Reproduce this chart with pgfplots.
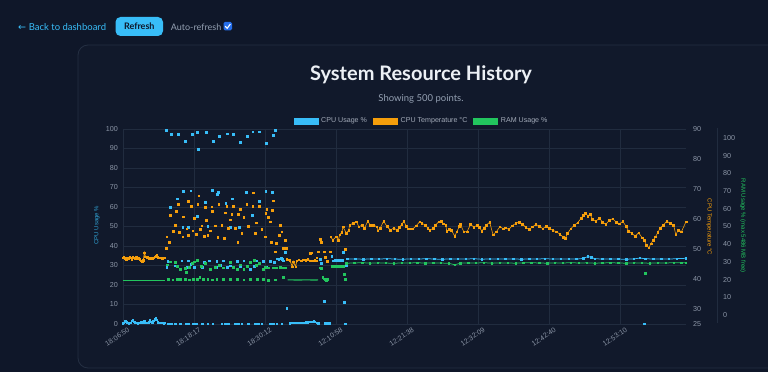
\documentclass[border=0pt]{standalone}
\usepackage{fontspec}
\setmainfont{Liberation Sans}
\newfontfamily\lato{Lato}
\newfontfamily\dejavu{DejaVu Sans}
\usepackage{pgfplots}
\pgfplotsset{compat=1.18}
\definecolor{bgc}{RGB}{15,23,41}
\definecolor{cardc}{RGB}{17,25,43}
\definecolor{cardb}{RGB}{36,47,66}
\definecolor{gridc}{RGB}{33,44,63}
\definecolor{tickc}{RGB}{139,149,166}
\definecolor{cpuc}{RGB}{56,189,248}
\definecolor{tempc}{RGB}{245,158,11}
\definecolor{ramc}{RGB}{34,197,94}
\definecolor{titlec}{RGB}{236,240,245}
\definecolor{subc}{RGB}{148,160,178}
\definecolor{chkc}{RGB}{37,110,235}
\newcommand{\fs}[1]{\fontsize{#1}{#1}\selectfont}
\pgfplotsset{
 base/.style={scale only axis, width=563pt, height=195pt, at={(123pt,48pt)}, anchor=south west,
   xmin=0, xmax=499, axis line style={draw=none}, major tick length=0pt, tick style={draw=none},
   /pgf/number format/assume math mode=true},
 mk/.style={only marks, mark=square*, mark size=0.9pt, mark options={draw=none}},
 ln/.style={line width=0.75pt, mark=square*, mark size=0.7pt, mark options={draw=none}},
}
\begin{document}
\begin{tikzpicture}
\begin{scope}[x=1pt,y=1pt]
\fill[bgc] (0,0) rectangle (768,372);
\filldraw[fill=cardc, draw=cardb, line width=0.8pt, rounded corners=10pt] (78,4) rectangle (790,327);
% header
\node[anchor=base west, inner sep=0pt, text=cpuc, font=\fs{9.5}] at (18,341) {{\dejavu ←} {\lato Back to dashboard}};
\fill[cpuc, rounded corners=5pt] (115.5,336) rectangle (163,355);
\node[text=bgc, font=\lato\bfseries\fs{9}] at (139.3,345.5) {Refresh};
\node[anchor=base west, inner sep=0pt, text=subc, font=\lato\fs{9}] at (170.7,341) {Auto-refresh};
\fill[chkc, rounded corners=1.5pt] (223.5,341.5) rectangle (232,350);
\draw[white, line width=1.1pt] (225.2,345.8) -- (227.2,343.7) -- (230.4,348);
% title
\node[anchor=base, text=titlec, font=\lato\bfseries\fs{20}] at (421,291) {System Resource History};
\node[anchor=base, text=subc, font=\lato\fs{9.5}] at (421,270) {Showing 500 points.};
% legend
\filldraw[fill=cpuc, draw=cpuc] (294,248) rectangle (318,253.5);
\node[anchor=west, inner sep=0pt, text=tickc!80!white, font=\fs{7.1}] at (321,250.8) {CPU Usage \%};
\filldraw[fill=tempc, draw=tempc] (373,248) rectangle (397,253.5);
\node[anchor=west, inner sep=0pt, text=tickc!80!white, font=\fs{7.1}] at (400.5,250.8) {CPU Temperature °C};
\filldraw[fill=ramc, draw=ramc] (473.5,248) rectangle (497.5,253.5);
\node[anchor=west, inner sep=0pt, text=tickc!80!white, font=\fs{7.1}] at (500.7,250.8) {RAM Usage \%};
% axis titles
\node[rotate=90, text=cpuc!85!black, font=\fs{6}] at (97,147) {CPU Usage \%};
\node[rotate=-90, text=tempc, font=\fs{6}] at (709,145) {CPU Temperature °C};
\node[rotate=-90, text=ramc, font=\fs{6}] at (743,146) {RAM Usage \% (max 5486 MB free)};
\draw[gridc, line width=0.6pt] (717,49) -- (717,244);
\end{scope}

% ---------- CPU usage axis ----------
\begin{axis}[base, ymin=0, ymax=100, ytick={0,10,...,100},
  xtick={0,63,126,189,252,315,378,441},
  xticklabels={18:06:50,18:18:17,18:30:12,12:10:58,12:21:38,12:32:09,12:42:40,12:53:10},
  ymajorgrids, xmajorgrids, grid style={gridc, line width=0.6pt},
  yticklabel style={font=\fs{7.2}, text=tickc, anchor=east, inner sep=0pt, xshift=-5pt},
  xticklabel style={font=\fs{7}, text=tickc, rotate=33, anchor=north east, inner sep=0pt, yshift=-5pt, xshift=2pt}]
% region A
\addplot[cpuc, ln] coordinates {(0,0.4)(1,0.6)(2,1.4)(3,1.0)(4,0.5)(5,0.4)(6,0.6)(7,0.5)(8,1.6)(9,2.2)(10,1.0)(11,0.6)(12,0.5)(13,0.4)(14,0.5)(15,0.6)(16,0.8)(17,1.1)(18,0.9)(19,1.3)(20,0.7)(21,0.6)(22,0.5)(23,0.8)(24,1.8)(25,1.0)(26,0.6)(27,1.5)(28,2.4)(29,3.2)(30,2.1)(31,0.9)(32,0.6)(33,0.5)(34,0.5)(35,0.6)(36,0.4)(37,0.5)};
% region B scattered
\addplot[cpuc, mk] coordinates {
(38,99.5)(43,97.4)(49,97.4)(55,93.8)(61,97.4)(66,98.5)(67,89.7)(74,98.5)(80,93.8)(85,96.5)(92,97.6)(98,97.4)(104,93.3)(110,96.5)(115,98.6)(121,98.6)(127,92.8)(133,96.9)(135,99.5)
(42,59.8)(48,64.3)(53.5,68)(60,68.4)(66,55.2)(72.7,62.5)(79,68.7)(84.5,67.7)(83.6,66.6)(91,62)(97,64.3)(109,67.7)(114.7,55.7)(120.6,63)(126.5,67.9)(132.4,67.4)
(53,49.6)(75,50.2)(95,49.6)(58,49.5)(103,49.5)
(39.6,32.1)(38.7,29)(46,29.9)(52,32.5)(58,32.5)(57,29)(63,29)(70.3,29)(76.5,32.5)(83,32)(83,29)(89,32.5)(95,29.9)(101,32.2)(107,32.5)(112.6,28.2)(118.5,32.5)(124.4,32.2)(130.3,32.2)(104,29.5)(92,29.2)(60,30.5)(72,31.8)(86,30.2)(116,29.6)(127,29.4)(134,31.5)
(40,0.2)(43,0.2)(46,0.2)(50.5,0.2)(55.6,0.2)(58,0.2)(62,0.2)(65,0.2)(70,0.2)(75,0.2)(79.5,0.2)(87.5,0.2)(90.4,0.2)(93.4,0.2)(99.3,0.2)(102.3,0.2)(105.2,0.2)(111.1,0.2)(117,0.2)(120,0.2)(123,0.2)(130.3,0.2)(133.2,0.2)(136.2,0.2)(140.7,0.2)
(137,33.5)(138,33.3)(139,33.5)(140,33.7)(141,33.4)(142,32.5)(144,37)(145,8.1)
(175,33.3)(176,31.3)(178,11.5)(179,0.4)(180,0.5)(181,0.4)(183,0.6)(185,34.7)(186,32.5)(188,32.8)(189,32.8)(190,32.9)(191,32.8)(192,32.8)(193,32.9)(194,32.8)(195,36.8)(196,11.3)(197,0.2)(198,30.3)
(462,0.2)};
% region C line
\addplot[cpuc, ln] coordinates {(148,0.4)(150,0.5)(152,0.5)(154,0.6)(156,0.5)(158,0.7)(160,0.6)(162,0.8)(164,0.9)(166,1.2)(168,1.0)(169,1.7)(170,1.1)(172,0.6)(173,0.4)};
% region E line
\addplot[cpuc, ln] coordinates {(199,33.3)(206,33.4)(213,33.2)(220,33.4)(227,33.3)(234,33.5)(241,33.3)(248,33.2)(255,33.4)(262,33.3)(269,33.5)(276,33.3)(283,33.2)(290,33.4)(297,33.3)(304,33.3)(311,33.5)(318,33.2)(325,33.4)(332,33.3)(339,33.3)(346,33.4)(353,33.2)(360,33.4)(367,33.3)(374,33.5)(381,33.3)(388,33.3)(395,33.4)(402,33.3)(408,33.6)(412,34.6)(415,34.2)(418,33.5)(425,33.3)(432,33.4)(439,33.3)(446,33.2)(453,33.4)(458,33.8)(463,33.5)(470,33.3)(477,33.4)(484,33.3)(491,33.5)(499,33.7)};
\end{axis}

% ---------- CPU temperature axis ----------
\begin{axis}[base, ymin=25, ymax=90, ytick={25,30,40,50,60,70,80,90}, xtick=\empty,
  yticklabel pos=right,
  yticklabel style={font=\fs{7.2}, text=tickc, anchor=west, inner sep=0pt, xshift=7pt}]
\addplot[tempc, ln] coordinates {(0,47.0)(1,47.3)(2,46.9)(3,46.3)(4,47.0)(5,46.8)(6,47.3)(7,47.0)(8,46.6)(9,47.2)(10,47.1)(11,46.9)(12,47.3)(13,46.8)(14,47.0)(15,46.5)(16,46.1)(17,45.9)(18,46.2)(19,48.8)(20,47.4)(21,47.0)(22,47.2)(23,46.9)(24,46.8)(25,47.0)(26,46.7)(27,47.1)(28,47.3)(29,47.6)(30,48.0)(31,47.2)(32,47.0)(33,47.1)(34,47.0)(35,46.9)(36,47.1)(37,47.0)};
\addplot[tempc, mk] coordinates {
(41.7,61.3)(46,58)(49,65)(53.5,60.8)(60.3,64.4)(66.2,64.9)(67.1,67.8)(72.7,63.9)(78.9,62.7)(78.6,64.1)(84.8,65)
(38.7,54.1)(41,52.4)(44.6,56)(49.9,55.7)(52.9,54.1)(56.5,56.8)(57.9,54.6)(61.8,56.1)(64.7,55)(68.3,56.7)(69.8,57.8)(71.8,54.4)(75.1,54.6)(77.1,56.1)(81.6,57.8)(84,54)(38.1,50.2)
(91.9,64.4)(97.8,64.4)(103.7,63.2)(109.7,65)(115,64.4)(120.8,64.4)(126.5,62)(127.4,63.3)(132.4,62.9)(133.2,66.1)(115.5,68.8)(90.4,62.1)(96.4,61.6)(102.2,61.6)
(87.5,58)(93.4,56.9)(99.3,56.9)(105.2,55.4)(111.1,57.7)(117,55.4)(123,56.6)(130.3,59.1)(139.2,58)(140.7,55.8)(143.6,53)(89.8,53.6)(101.7,52.4)(125.9,54.1)(131.2,52.4)(135.6,51.9)(138.3,54.7)(144.5,50.2)(141.8,50.2)(134.8,49.1)
(47,62.5)(58,66.0)(63,60.2)(74,59.5)(95,59.8)(107,60.5)(118,58.8)(129,60.7)
(166,48.6)(167,48.8)(171.7,47.1)(173,49.1)(174.6,53.2)(176,52.4)(178,49.1)(179,47.4)(181,46)(183.5,49.1)(196.8,50)};
\addplot[tempc, ln] coordinates {(145,46.5)(146,46.3)(148,46.2)(150,44.1)(151,45.8)(153,44.1)(154,46.0)(156,46.3)(158,46.1)(160,46.4)(162,46.2)(164,46.5)(166,46.1)(168,46.0)(170,46.2)(172,46.0)};
\addplot[tempc, line width=0.6pt, mark=square*, mark size=0.8pt, mark options={draw=none}] coordinates {(184,54.1)(186,53.0)(189,54.1)(191,53.0)(192,54.7)(194,55.6)(195,57.4)(198,55.2)(200,56.3)(201,58.0)(204,58.6)(207,59.1)(209,57.4)(212,58.0)(214,56.9)(217,59.3)(219,58.0)(222,58.0)(225,57.4)(226,56.1)(228,57.0)(231,59.3)(234,57.5)(237,56.3)(240,57.0)(243,56.3)(245,57.2)(247,58.2)(249,59.3)(251,57.5)(253,56.7)(255,56.8)(257,56.7)(260,57.8)(263,59.1)(265,58.5)(268,58.0)(270,57.0)(272,56.3)(275,56.9)(277,58.0)(280,59.1)(282,59.3)(284,58.4)(286,58.0)(287,56.0)(289,56.5)(291,56.3)(294,54.3)(296,55.8)(298,57.5)(299,58.2)(302,55.8)(305,55.8)(308,58.2)(311,57.3)(314,58.0)(316,57.2)(318,56.0)(320,57.0)(322,58.0)(325,58.9)(328,54.7)(331,55.8)(334,57.4)(337,56.8)(339,57.1)(342,56.5)(345,57.8)(348,58.5)(351,59.0)(354,58.3)(357,57.2)(360,56.5)(363,57.4)(366,58.2)(369,57.6)(372,56.8)(375,57.5)(378,56.9)(381,56.2)(384,55.8)(387,55.0)(390,54.0)(392,53.6)(394,55.2)(397,56.8)(400,57.9)(403,58.8)(406,60.2)(408,61.3)(410,62.0)(412,61.0)(414,61.6)(416,60.0)(419,59.2)(422,60.3)(425,59.0)(428,58.2)(431,59.6)(434,60.1)(437,59.0)(440,58.4)(443,59.2)(446,57.5)(448,56.0)(451,55.2)(454,54.3)(457,55.4)(460,53.8)(462,53.0)(464,51.2)(466,50.4)(468,51.8)(470,53.0)(472,54.1)(474,55.5)(476,56.9)(479,58.0)(482,59.3)(485,58.5)(488,58.0)(490,54.7)(492,56.3)(495,55.8)(499,59.1)};
\end{axis}

% ---------- RAM axis ----------
\begin{axis}[base, ymin=-5, ymax=105, ytick={0,10,...,100}, xtick=\empty,
  yticklabel pos=right,
  yticklabel style={font=\fs{7.2}, text=tickc, anchor=west, inner sep=0pt, xshift=37pt}]
\addplot[ramc, line width=1.3pt] coordinates {(0,19.6)(10,19.6)(20,19.6)(30,19.6)(37,19.6)};
\addplot[ramc, mk] coordinates {
(40,20.2)(44,20.0)(48,20.3)(51,20.1)(55,20.2)(59,20.0)(62,20.3)(66,20.2)(68,21.2)(71,20.1)(75,20.2)(79,20.0)(83,20.2)(89,20.3)(95,20.1)(101,20.2)(107,20.0)(113,20.2)(119,20.3)(124,20.1)(129,19.9)(135,20.0)(142,21.2)
(42,30.1)(46,29.7)(51,25.9)(55,26.3)(56,24.4)(59,27.2)(63,30.1)(66,31.0)(73,29.3)(77,25.9)(82,27.2)(89,26.8)(95,29.7)(101,25.9)(107,25.9)(113,29.7)(116,31.2)(121,29.1)(124,25.9)(129,26.8)(133,26.8)(136,26.8)(141,26.8)(143,26.8)(144,26.8)
(39,28.5)(48,27.5)(61,29.5)(69,27.8)(85,28.0)(98,27.0)(104,28.5)(110,27.5)(118,28.0)(126,27.0)(139,27.0)
(175,26.8)(176,26.3)(177,21.2)(178,20.5)(179,20.0)(180,19.9)(181,20.2)(185,27.8)(186,27.8)(187,27.9)(188,27.8)(189,27.7)(190,27.8)(191,27.8)(192,27.9)(193,27.8)(194,27.8)(195,27.8)(196,23.0)(197,20.2)
(463,23.8)};
\addplot[ramc, line width=1.2pt] coordinates {(146,19.9)(150,19.9)(155,19.8)(160,19.9)(165,19.9)(170,19.8)(173,19.9)};
\addplot[ramc, ln] coordinates {(198,29.3)(205,29.4)(212,29.6)(219,29.3)(226,29.5)(233,29.4)(240,29.2)(247,29.5)(254,29.4)(261,29.6)(268,29.3)(275,29.5)(282,29.4)(289,29.2)(294,28.4)(299,29.3)(306,29.5)(313,29.4)(320,29.6)(327,29.3)(334,29.5)(341,29.4)(348,29.3)(355,29.5)(362,29.6)(369,29.4)(376,29.3)(383,29.5)(390,29.4)(397,29.6)(404,29.4)(411,29.5)(418,29.3)(425,29.4)(432,29.6)(439,29.4)(446,29.3)(453,29.5)(460,29.4)(467,29.3)(474,29.5)(481,29.4)(488,29.6)(495,29.5)(499,29.5)};
\end{axis}
\pgfresetboundingbox
\path (0pt,0pt) rectangle (768pt,372pt);
\end{tikzpicture}
\end{document}
